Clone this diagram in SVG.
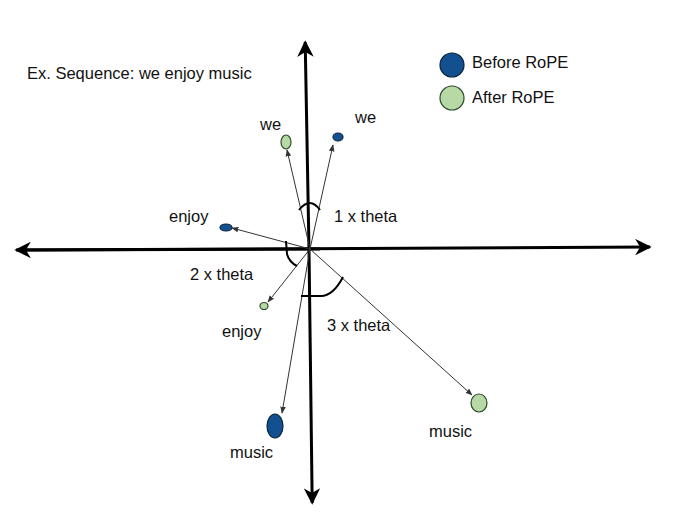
<svg xmlns="http://www.w3.org/2000/svg" width="700" height="528" viewBox="0 0 700 528">
<style>
text{font-family:"Liberation Sans",Arial,sans-serif;font-size:16.5px;fill:#111}
.vec{stroke:#333;stroke-width:1;fill:none;marker-end:url(#ah)}
.axis{stroke:#000;stroke-width:3;fill:none}
.arc{stroke:#000;stroke-width:2;fill:none}
.blue{fill:#12508f;stroke:#0b2440;stroke-width:1.2}
.green{fill:#b6d9a6;stroke:#2f4a2a;stroke-width:1.2}
</style>
<defs>
<marker id="ah" viewBox="0 0 10 10" refX="9" refY="5" markerWidth="7" markerHeight="7" orient="auto" markerUnits="userSpaceOnUse"><path d="M0,1 L10,5 L0,9 Z" fill="#333"/></marker>
<marker id="ax" viewBox="0 0 10 10" refX="9" refY="5" markerWidth="5.5" markerHeight="5.5" orient="auto"><path d="M0,0 L10,5 L0,10 L3,5 Z" fill="#000"/></marker>
</defs>
<rect width="700" height="528" fill="#fff"/>
<g id="axes">
<line class="axis" x1="20" y1="250" x2="650" y2="247" marker-end="url(#ax)"/>
<line class="axis" x1="320" y1="249" x2="16" y2="250" marker-end="url(#ax)"/>
<line class="axis" x1="309" y1="250" x2="305.2" y2="42" marker-end="url(#ax)"/>
<line class="axis" x1="309" y1="250" x2="312.2" y2="503" marker-end="url(#ax)"/>
</g>
<g id="connectors">
<line class="vec" x1="310" y1="249" x2="287" y2="150"/>
<line class="vec" x1="310" y1="249" x2="333" y2="145"/>
<line class="vec" x1="310" y1="249" x2="232" y2="228"/>
<line class="vec" x1="310" y1="249" x2="268" y2="302"/>
<line class="vec" x1="310" y1="249" x2="282" y2="413"/>
<line class="vec" x1="310" y1="249" x2="472" y2="395"/>
</g>
<g id="angles">
<path class="arc" d="M299,210 Q310,196 320,210"/>
<path class="arc" d="M286,241 L287,254 Q289,262 297,266"/>
<path class="arc" d="M301,296 L321,296 Q333,296 343,277"/>
</g>
<g id="node-we-after"><ellipse class="green" cx="286" cy="142" rx="5" ry="7"/><text x="260" y="130">we</text></g>
<g id="node-we-before"><ellipse class="blue" cx="338" cy="137" rx="5" ry="4"/><text x="355" y="123">we</text></g>
<g id="node-enjoy-before"><ellipse class="blue" cx="226" cy="227.5" rx="6" ry="3.5"/><text x="169" y="222">enjoy</text></g>
<g id="node-enjoy-after"><ellipse class="green" cx="264" cy="306" rx="4" ry="3.5"/><text x="222" y="337">enjoy</text></g>
<g id="node-music-before"><ellipse class="blue" cx="275" cy="426" rx="8" ry="12"/><text x="230" y="458">music</text></g>
<g id="node-music-after"><ellipse class="green" cx="479" cy="403" rx="8" ry="9"/><text x="429" y="437">music</text></g>
<g id="labels">
<text x="27" y="79">Ex. Sequence: we enjoy music</text>
<text x="334" y="222">1 x theta</text>
<text x="190" y="280">2 x theta</text>
<text x="327" y="331">3 x theta</text>
</g>
<g id="legend">
<circle class="blue" cx="452" cy="65" r="12"/>
<text x="472" y="68">Before RoPE</text>
<circle class="green" cx="452" cy="98" r="12"/>
<text x="472" y="103">After RoPE</text>
</g>
</svg>
